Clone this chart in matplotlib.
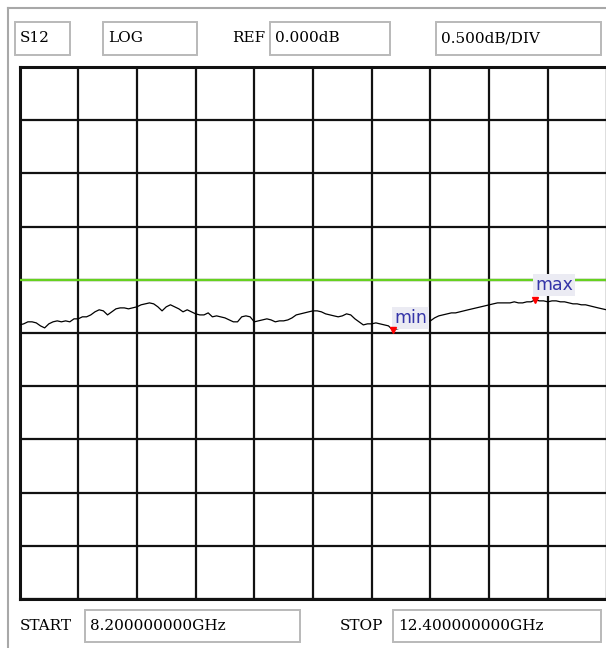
import numpy as np
import matplotlib.pyplot as plt
from matplotlib.patches import Rectangle
from matplotlib.lines import Line2D


# analyser settings shown on the screen
TRACE_NAME = "S12"
FORMAT_NAME = "LOG"
START_GHZ = 8.2
STOP_GHZ = 12.4
REF_DB = 0.0
DB_PER_DIV = 0.5
REF_LINE_FROM_TOP = 4  # graticule line that carries the reference level
N_DIV = 10

# S12 trace, evenly spaced sweep points (dB)
S12_DB = [
    -0.424, -0.414, -0.395, -0.395, -0.405, -0.433, -0.452, -0.414, -0.395, -0.386,
    -0.395, -0.386, -0.395, -0.367, -0.367, -0.348, -0.348, -0.330, -0.301, -0.282,
    -0.292, -0.330, -0.301, -0.273, -0.264, -0.264, -0.273, -0.264, -0.254, -0.235,
    -0.226, -0.217, -0.226, -0.254, -0.292, -0.254, -0.235, -0.254, -0.273, -0.301,
    -0.282, -0.301, -0.320, -0.330, -0.330, -0.311, -0.348, -0.339, -0.348, -0.358,
    -0.377, -0.395, -0.395, -0.348, -0.339, -0.348, -0.395, -0.386, -0.377, -0.367,
    -0.377, -0.395, -0.386, -0.386, -0.377, -0.358, -0.330, -0.320, -0.311, -0.301,
    -0.292, -0.292, -0.301, -0.320, -0.330, -0.339, -0.348, -0.339, -0.320, -0.330,
    -0.367, -0.395, -0.424, -0.414, -0.414, -0.405, -0.414, -0.424, -0.433, -0.471,
    -0.461, -0.452, -0.443, -0.433, -0.424, -0.414, -0.405, -0.395, -0.386, -0.358,
    -0.339, -0.330, -0.320, -0.311, -0.311, -0.301, -0.292, -0.282, -0.273, -0.264,
    -0.254, -0.245, -0.235, -0.226, -0.217, -0.217, -0.217, -0.217, -0.207, -0.217,
    -0.217, -0.207, -0.207, -0.188, -0.198, -0.198, -0.207, -0.198, -0.198, -0.207,
    -0.207, -0.217, -0.226, -0.226, -0.235, -0.235, -0.245, -0.254, -0.264, -0.273,
    -0.282,
]

W, H = 606, 648
UI_FONT = ["DejaVu Serif"]
UI_SIZE = 11
BOX_EDGE = "#b9b9b9"


def fx(x):
    return x / W


def fy(y):
    return 1 - y / H


def screen_box(fig, x0, y0, x1, y1, text=None):
    fig.patches.append(
        Rectangle((fx(x0), fy(y1)), fx(x1) - fx(x0), fy(y0) - fy(y1),
                  transform=fig.transFigure, facecolor="white",
                  edgecolor=BOX_EDGE, linewidth=1.4)
    )
    if text is not None:
        fig.text(fx(x0 + 5), fy((y0 + y1) / 2), text, ha="left", va="center",
                 fontsize=UI_SIZE, family=UI_FONT, color="black")


def main():
    freq = np.linspace(START_GHZ, STOP_GHZ, len(S12_DB))
    s12 = np.array(S12_DB)

    fig = plt.figure(figsize=(W / 100, H / 100), dpi=100)
    fig.patch.set_facecolor("white")

    # outer panel frame
    fig.add_artist(Line2D([fx(8), fx(8)], [fy(8), fy(H)], transform=fig.transFigure,
                          color="#a8a8a8", linewidth=1.5))
    fig.add_artist(Line2D([fx(8), fx(W)], [fy(8), fy(8)], transform=fig.transFigure,
                          color="#a8a8a8", linewidth=1.5))

    # header
    screen_box(fig, 15, 22, 70, 55, TRACE_NAME)
    screen_box(fig, 103, 22, 197, 55, FORMAT_NAME)
    fig.text(fx(232), fy(38), "REF", ha="left", va="center", fontsize=UI_SIZE,
             family=UI_FONT)
    screen_box(fig, 270, 22, 390, 55, f"{REF_DB:.3f}dB")
    screen_box(fig, 436, 22, 601, 55, f"{DB_PER_DIV:.3f}dB/DIV")

    # footer
    fig.text(fx(20), fy(626), "START", ha="left", va="center", fontsize=UI_SIZE,
             family=UI_FONT)
    screen_box(fig, 85, 610, 300, 642, f"{START_GHZ:.9f}GHz")
    fig.text(fx(340), fy(626), "STOP", ha="left", va="center", fontsize=UI_SIZE,
             family=UI_FONT)
    screen_box(fig, 393, 610, 601, 642, f"{STOP_GHZ:.9f}GHz")

    # graticule
    top = REF_DB + REF_LINE_FROM_TOP * DB_PER_DIV
    bottom = top - N_DIV * DB_PER_DIV
    ax = fig.add_axes([fx(19.5), fy(599), (606.5 - 19.5) / W, (599 - 67) / H])
    ax.set_xlim(START_GHZ, STOP_GHZ)
    ax.set_ylim(bottom, top)
    ax.set_xticks(np.linspace(START_GHZ, STOP_GHZ, N_DIV + 1))
    ax.set_yticks(np.linspace(bottom, top, N_DIV + 1))
    ax.tick_params(length=0, labelbottom=False, labelleft=False)
    ax.grid(True, color="#111111", linewidth=1.6)
    for sp in ax.spines.values():
        sp.set_color("#111111")
        sp.set_linewidth(2.2)

    ax.axhline(REF_DB, color="#66d11f", linewidth=1.6, zorder=3)
    ax.plot(freq, s12, color="black", linewidth=0.9, zorder=4)

    # min / max markers
    i_min = int(np.argmin(s12))
    i_max = int(np.argmax(s12))
    for i, name, off in [(i_min, "min", (1, 2)), (i_max, "max", (0, 4))]:
        ax.plot(freq[i], s12[i], marker="v", color="red", markersize=5, zorder=6)
        ax.annotate(name, (freq[i], s12[i]), xytext=off, textcoords="offset points",
                    ha="left", va="bottom", fontsize=12.5, color="#3434a8",
                    family="DejaVu Sans", zorder=5,
                    bbox=dict(boxstyle="square,pad=0.12", facecolor="#ebebf3",
                              edgecolor="none"))

    fig.savefig("out.png", dpi=100)
    plt.close(fig)


if __name__ == "__main__":
    main()
